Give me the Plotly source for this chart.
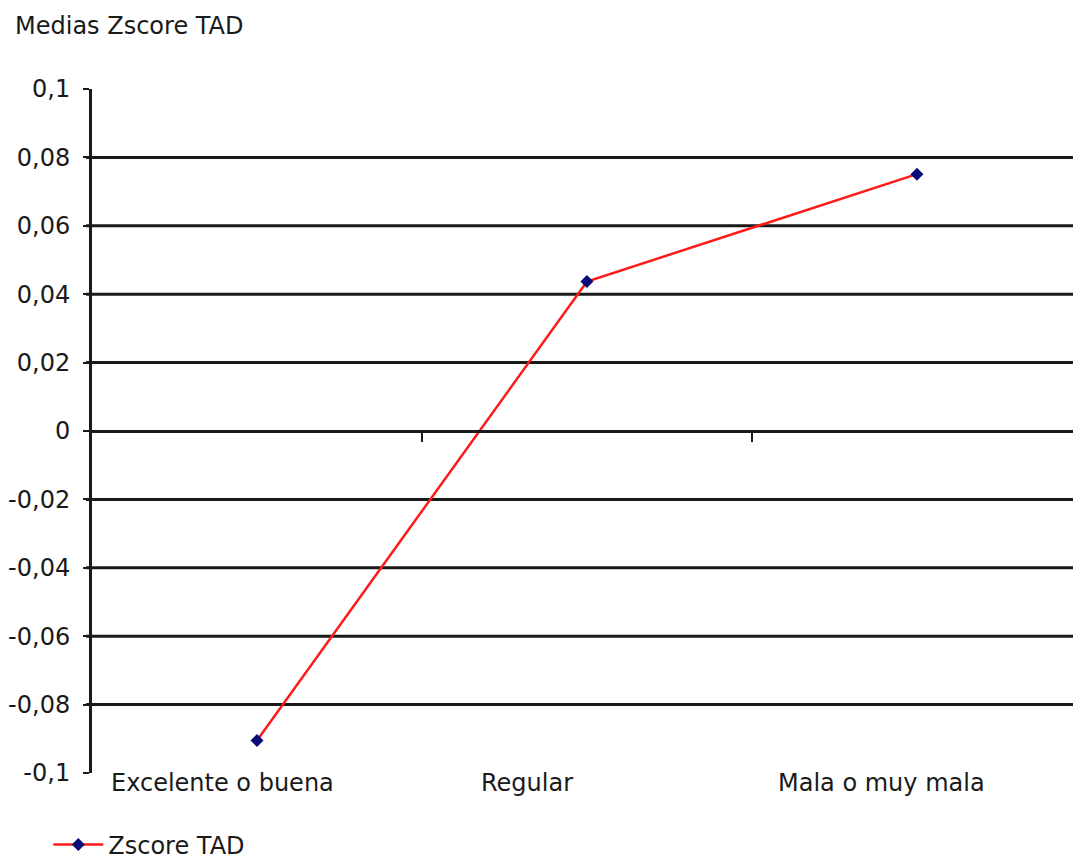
import plotly.graph_objects as go

# Mean Z-scores of TAD by self-rated health category
categories = ["Excelente o buena", "Regular", "Mala o muy mala"]
zscore_tad = [-0.0905, 0.0437, 0.0751]

y_tickvals = [0.1, 0.08, 0.06, 0.04, 0.02, 0, -0.02, -0.04, -0.06, -0.08, -0.1]
y_ticktext = ["0,1", "0,08", "0,06", "0,04", "0,02", "0", "-0,02", "-0,04", "-0,06", "-0,08", "-0,1"]
category_bounds = [0.5, 1.5]
label_xshift = [-34, -60, -35]  # horizontal nudges of the category labels, px

FONT = "DejaVu Sans, Verdana, sans-serif"
INK = "#1a1a1a"

fig = go.Figure()
fig.add_trace(go.Scatter(
    x=list(range(len(categories))),
    y=zscore_tad,
    mode="lines+markers",
    name="Zscore TAD",
    line=dict(color="#ff1a1a", width=2.5),
    marker=dict(symbol="diamond", size=10, color="#0a0a78"),
))

# horizontal gridlines at interior tick values
shapes = []
for v in y_tickvals:
    if abs(v) < 0.099 and v != 0:
        shapes.append(dict(type="line", xref="paper", yref="y", x0=-0.006, x1=1, y0=v, y1=v,
                           line=dict(color=INK, width=3), layer="below"))

# category labels under the plot area
annotations = [dict(text=c, x=i, y=-0.1, xref="x", yref="y", xanchor="center",
                    yanchor="middle", yshift=-10, xshift=dx, showarrow=False,
                    font=dict(size=24, color=INK))
               for i, (c, dx) in enumerate(zip(categories, label_xshift))]
annotations.append(dict(text="Medias Zscore TAD", xref="paper", yref="paper",
                        x=(13 - 92) / 981, y=(861 - 88 - 26) / 684,
                        xanchor="left", yanchor="middle", showarrow=False,
                        font=dict(size=24, color=INK)))

x_range = [-0.5, 2.473]

fig.update_layout(
    width=1073, height=861,
    margin=dict(l=92, r=0, t=89, b=88, autoexpand=False),
    paper_bgcolor="white", plot_bgcolor="white",
    font=dict(family=FONT, size=24, color=INK),
    shapes=shapes,
    annotations=annotations,
    showlegend=True,
    legend=dict(xref="container", yref="container", x=0.045, y=0.0186,
                xanchor="left", yanchor="middle", font=dict(size=24, color=INK),
                bgcolor="rgba(0,0,0,0)", itemwidth=50),
    xaxis=dict(range=x_range, showticklabels=False,
               showgrid=False, zeroline=False, showline=False, ticks="", automargin=False),
    xaxis2=dict(range=x_range, overlaying="x", anchor="free", position=0.5, side="bottom",
                showline=True, linecolor=INK, linewidth=3, showgrid=False, zeroline=False,
                tickvals=category_bounds, ticks="outside", ticklen=9, tickwidth=2,
                tickcolor=INK, showticklabels=False, automargin=False),
    yaxis=dict(range=[-0.1, 0.1], tickvals=y_tickvals, ticktext=y_ticktext,
               showgrid=False, zeroline=False, showline=True, linecolor=INK, linewidth=3,
               ticks="outside", ticklen=6, tickwidth=2, tickcolor=INK, automargin=False,
               ticklabelstandoff=8, tickfont=dict(size=24, color=INK)),
)

# invisible trace so the overlay axis is rendered
fig.add_trace(go.Scatter(x=[0], y=[0], xaxis="x2", mode="markers",
                         marker=dict(opacity=0), showlegend=False, hoverinfo="skip"))

fig.write_html("out.html")
